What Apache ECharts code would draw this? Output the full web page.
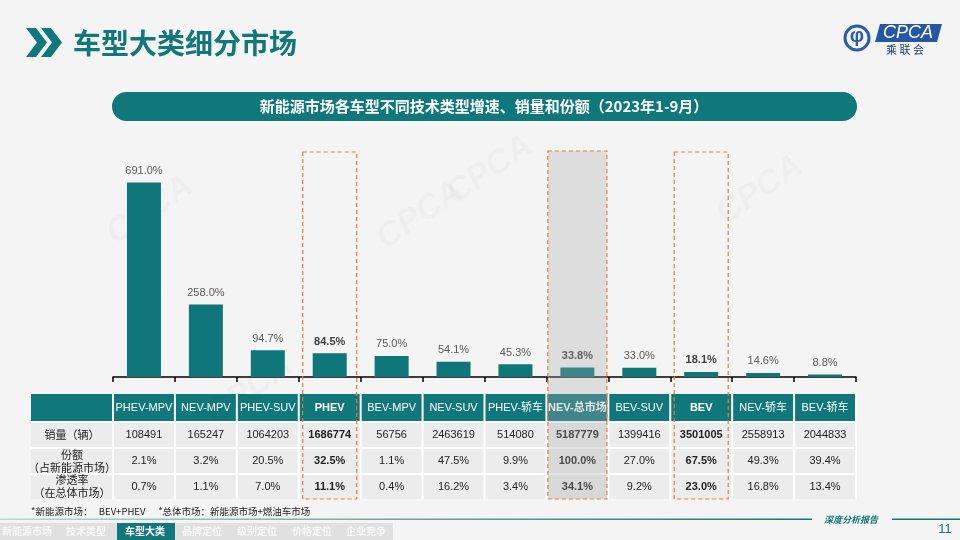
<!DOCTYPE html>
<html>
<head>
<meta charset="utf-8">
<script src="https://cdn.jsdelivr.net/npm/echarts@6/dist/echarts.min.js"></script>
<style>html,body{margin:0;padding:0;background:#f4f4f4}#main{width:960px;height:540px}</style>
</head>
<body>
<div id="main"></div>
<script>
(()=>{
    "use strict";
    // data
    const categories = ['PHEV-MPV','NEV-MPV','PHEV-SUV','PHEV','BEV-MPV','NEV-SUV','PHEV-轿车','NEV-总市场','BEV-SUV','BEV','NEV-轿车','BEV-轿车'];
    const growth = [691.0,258.0,94.7,84.5,75.0,54.1,45.3,33.8,33.0,18.1,14.6,8.8];
    const sales = [108491,165247,1064203,1686774,56756,2463619,514080,5187779,1399416,3501005,2558913,2044833];
    const share = [2.1,3.2,20.5,32.5,1.1,47.5,9.9,100.0,27.0,67.5,49.3,39.4];
    const penetration = [0.7,1.1,7.0,11.1,0.4,16.2,3.4,34.1,9.2,23.0,16.8,13.4];
    const rowNames = ['销量（辆）','份额\n（占新能源市场）','渗透率\n（在总体市场）'];
    const boxed = ['PHEV','NEV-总市场','BEV'];
    const navItems = ['新能源市场','技术类型','车型大类','品牌定位','级别定位','价格定位','企业竞争'];

    const TEAL = '#10777B';
    const FONT = '"Liberation Sans", "Noto Sans CJK SC", sans-serif';
    const CJK = '"Noto Sans CJK SC", sans-serif';

    let _chart = echarts.init(document.getElementById('main'));
    _chart.setOption({
        animation:false,
        backgroundColor:'#f4f4f4',
        grid:{left:113, right:104, top:180, bottom:163},
        xAxis:{type:'category', data:categories,
            axisLine:{lineStyle:{color:'#000', width:1.5}},
            axisTick:{show:true, interval:0, length:5, lineStyle:{color:'#000', width:1.5}},
            axisLabel:{show:false, interval:0}},
        yAxis:{type:'value', min:0, max:700, show:false, splitLine:{show:false}},
        series:[{
            type:'bar', barWidth:34, z:2,
            itemStyle:{color:'#0F7679'},
            label:{show:true, position:'top', distance:6, color:'#595959', fontSize:11, fontFamily:FONT,
                formatter:p=>p.value.toFixed(1)+'%'},
            data:growth.map((v,i)=>boxed.includes(categories[i])
                ? {value:v, label:{fontWeight:'bold', color:'#404040'}} : v)
        }]
    });

    const xs = categories.map(c=>_chart.convertToPixel({xAxisIndex:0}, c));
    const cw = xs[1]-xs[0];
    const rowsY = [394,422,448,474,499];
    const tableLeft = 31, headLeft = xs[0]-cw/2, tableRight = xs[xs.length-1]+cw/2;
    const g = [];
    const txt = (text,x,y,font,fill,align,z)=>({type:'text', z:z||5, style:{text:text, x:x, y:y, font:font, fill:fill,
        align:align||'center', textAlign:align||'center', verticalAlign:'middle', textVerticalAlign:'middle', lineHeight:13}});

    // faint watermarks
    [[150,210],[420,215],[760,190],[490,170],[250,390]].forEach(p=>{
        g.push({type:'text', z:1, x:p[0], y:p[1], rotation:0.6,
            style:{text:'CPCA', font:'italic bold 34px '+FONT, fill:'rgba(0,0,0,0.022)', align:'center', textAlign:'center', verticalAlign:'middle', textVerticalAlign:'middle'}});
    });

    // header
    g.push({type:'polygon', shape:{points:[[26,28],[36,28],[47,42.5],[36,57],[26,57],[37,42.5]]}, style:{fill:TEAL}});
    g.push({type:'polygon', shape:{points:[[41,28],[51,28],[62,42.5],[51,57],[41,57],[52,42.5]]}, style:{fill:TEAL}});
    g.push(txt('车型大类细分市场',73,43,'bold 28px '+CJK,TEAL,'left'));
    // logo
    g.push({type:'circle', shape:{cx:857, cy:38, r:12}, style:{fill:'none', stroke:'#2a5bb0', lineWidth:3}});
    g.push(txt('\u03c6',857,36,'bold 20px '+FONT,'#2a5bb0'));
    g.push({type:'polygon', shape:{points:[[880,24],[942,24],[937,42],[875,42]]}, style:{fill:'#2457a8'}});
    g.push(txt('CPCA',908,33,'italic 18px '+FONT,'#fff'));
    g.push(txt('乘 联 会',905,50,'11px '+CJK,'#1d3f7a'));
    // banner
    g.push({type:'rect', shape:{x:112, y:92, width:745, height:29, r:14.5}, style:{fill:TEAL}});
    g.push(txt('新能源市场各车型不同技术类型增速、销量和份额（2023年1-9月）',484,106.5,'bold 15px '+CJK,'#fff'));

    // table backgrounds
    g.push({type:'rect', shape:{x:tableLeft, y:rowsY[0], width:tableRight-tableLeft, height:rowsY[1]-rowsY[0]}, style:{fill:TEAL}});
    g.push({type:'rect', shape:{x:tableLeft, y:rowsY[1], width:tableRight-tableLeft, height:rowsY[4]-rowsY[1]}, style:{fill:'#ececec'}});
    // white grid lines
    for (let r=1;r<4;r++) g.push({type:'line', z:4, shape:{x1:tableLeft, y1:rowsY[r], x2:tableRight, y2:rowsY[r]}, style:{stroke:'#fff', lineWidth:2}});
    for (let i=0;i<=categories.length;i++) {
        const x = headLeft + i*cw;
        g.push({type:'line', z:4, shape:{x1:x, y1:rowsY[0], x2:x, y2:rowsY[4]}, style:{stroke:'#fff', lineWidth:2}});
    }
    rowNames.forEach((n,r)=>g.push(txt(n,(tableLeft+headLeft)/2,(rowsY[r+1]+rowsY[r+2])/2,'11px '+CJK,'#222')));
    categories.forEach((c,i)=>{
        const b = boxed.includes(c) ? 'bold ' : '';
        g.push(txt(c,xs[i],(rowsY[0]+rowsY[1])/2,b+'11px '+FONT,'#fff'));
        g.push(txt(String(sales[i]),xs[i],(rowsY[1]+rowsY[2])/2,b+'11px '+FONT,'#222'));
        g.push(txt(share[i].toFixed(1)+'%',xs[i],(rowsY[2]+rowsY[3])/2,b+'11px '+FONT,'#222'));
        g.push(txt(penetration[i].toFixed(1)+'%',xs[i],(rowsY[3]+rowsY[4])/2,b+'11px '+FONT,'#222'));
    });

    // highlight boxes
    boxed.forEach(c=>{
        const i = categories.indexOf(c);
        const total = c==='NEV-总市场';
        const w = total ? 59 : 54;
        if (total) g.push({type:'rect', z:8, shape:{x:xs[i]-w/2, y:151, width:w, height:348},
            style:{fill:'rgba(170,170,170,0.3)'}});
        g.push({type:'rect', z:9, shape:{x:xs[i]-w/2, y:total?151:152, width:w, height:total?348:347},
            style:{fill:'none', stroke:'#F07A2A', lineWidth:1.2, lineDash:[4,3]}});
    });

    // footnote
    g.push(txt('*新能源市场：   BEV+PHEV      *总体市场：新能源市场+燃油车市场',31,511,'9.5px '+CJK,'#222','left'));
    // footer
    g.push({type:'rect', shape:{x:0, y:518.5, width:812, height:1.5},
        style:{fill:new echarts.graphic.LinearGradient(0,0,1,0,[{offset:0,color:'#b8d6d6'},{offset:1,color:TEAL}])}});
    g.push({type:'rect', shape:{x:892, y:518.5, width:68, height:1.5}, style:{fill:TEAL}});
    g.push(txt('深度分析报告',851,520,'italic bold 9px '+CJK,TEAL));
    g.push(txt('11',945,529,'13px '+FONT,TEAL));
    g.push({type:'rect', shape:{x:0, y:523, width:393, height:17}, style:{fill:'#e0e0e0'}});
    const navX = [27,86,145,202,257,312,366];
    g.push({type:'rect', shape:{x:117, y:523, width:58, height:17}, style:{fill:TEAL}});
    navItems.forEach((n,i)=>g.push(txt(n,navX[i],531.5,'bold 10px '+CJK,i===2?'#fff':'#f7f7f7')));

    _chart.setOption({graphic:{elements:g}});
})();
</script>
</body>
</html>
